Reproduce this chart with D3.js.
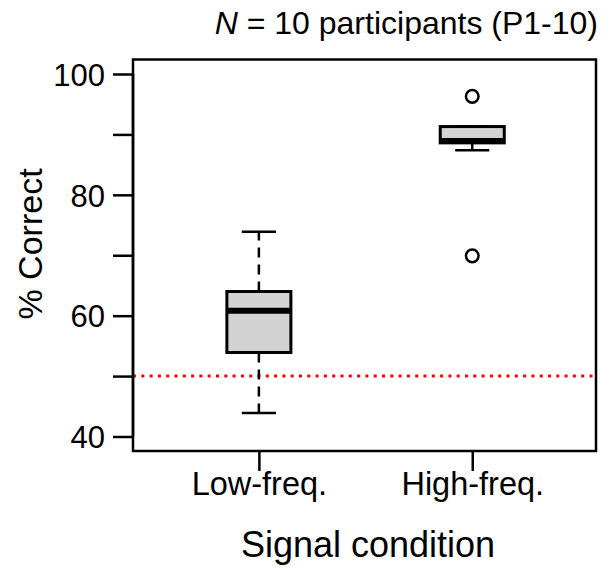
<!DOCTYPE html>
<html>
<head>
<meta charset="utf-8">
<script src="https://cdn.jsdelivr.net/npm/d3@7"></script>
<style>
  html, body { margin: 0; padding: 0; background: #fff; }
  svg text { font-family: "Liberation Sans", Arial, Helvetica, sans-serif; fill: #000; }
</style>
</head>
<body>
<svg id="chart" width="605" height="568"></svg>
<script>
// Signal conditions (one box per condition)
const categories = ["Low-freq.", "High-freq."];
// Five-number summaries per condition (% correct)
const whiskerLow  = [43.9, 87.4];
const quartile1   = [53.9, 88.6];
const medians     = [60.8, 88.9];
const quartile3   = [64.0, 91.3];
const whiskerHigh = [73.9, 91.3];
// Points beyond the whiskers
const outliers    = [[], [96.3, 69.9]];
// Chance level
const chance = 50;
// Y-axis ticks and which of them carry labels
const yTicks = [40, 50, 60, 70, 80, 90, 100];
const yLabelled = [40, 60, 80, 100];

const svg = d3.select("#chart");
const plot = { left: 133, right: 596, top: 59.5, bottom: 451 };

const x = d3.scaleLinear().domain([0.41, 2.58]).range([plot.left, plot.right]);
const y = d3.scaleLinear().domain([37.6, 102.4]).range([plot.bottom, plot.top]);

const boxHalf = 0.15;     // half box width, in x units
const stapleHalf = 0.08;  // half whisker-cap width
const FONT = '"Liberation Sans", Arial, Helvetica, sans-serif';

// Chance-level reference line
svg.append("line")
  .attr("x1", plot.left).attr("x2", plot.right)
  .attr("y1", y(chance)).attr("y2", y(chance))
  .attr("stroke", "#ff0000").attr("stroke-width", 3)
  .attr("stroke-dasharray", "3,5.3");

// Boxes
categories.forEach((c, i) => {
  const cx = x(i + 1);
  const g = svg.append("g");
  // dashed whiskers
  g.append("line").attr("x1", cx).attr("x2", cx)
    .attr("y1", y(quartile3[i])).attr("y2", y(whiskerHigh[i]))
    .attr("stroke", "#000").attr("stroke-width", 2.5).attr("stroke-dasharray", "10,7");
  g.append("line").attr("x1", cx).attr("x2", cx)
    .attr("y1", y(quartile1[i])).attr("y2", y(whiskerLow[i]))
    .attr("stroke", "#000").attr("stroke-width", 2.5).attr("stroke-dasharray", "10,7");
  // whisker caps
  [whiskerLow[i], whiskerHigh[i]].forEach(v => {
    g.append("line")
      .attr("x1", x(i + 1 - stapleHalf)).attr("x2", x(i + 1 + stapleHalf))
      .attr("y1", y(v)).attr("y2", y(v))
      .attr("stroke", "#000").attr("stroke-width", 2.5);
  });
  // box
  g.append("rect")
    .attr("x", x(i + 1 - boxHalf))
    .attr("width", x(i + 1 + boxHalf) - x(i + 1 - boxHalf))
    .attr("y", y(quartile3[i]))
    .attr("height", y(quartile1[i]) - y(quartile3[i]))
    .attr("fill", "#d3d3d3").attr("stroke", "#000").attr("stroke-width", 3);
  // median
  g.append("line")
    .attr("x1", x(i + 1 - boxHalf)).attr("x2", x(i + 1 + boxHalf))
    .attr("y1", y(medians[i])).attr("y2", y(medians[i]))
    .attr("stroke", "#000").attr("stroke-width", 6);
  // outliers
  g.selectAll("circle").data(outliers[i]).enter().append("circle")
    .attr("cx", cx).attr("cy", d => y(d)).attr("r", 6.3)
    .attr("fill", "none").attr("stroke", "#000").attr("stroke-width", 2.5);
});

// Plot frame
svg.append("rect")
  .attr("x", plot.left).attr("y", plot.top)
  .attr("width", plot.right - plot.left).attr("height", plot.bottom - plot.top)
  .attr("fill", "none").attr("stroke", "#000").attr("stroke-width", 2.5);

// Y axis
const yAxis = svg.append("g").attr("transform", `translate(${plot.left},0)`)
  .call(d3.axisLeft(y).tickValues(yTicks).tickSize(20).tickPadding(8)
    .tickFormat(d => yLabelled.includes(d) ? d : ""));
yAxis.select(".domain").attr("d", `M0,${y(40)}V${y(100)}`).attr("stroke-width", 2.5);
yAxis.selectAll(".tick line").attr("stroke-width", 2.5);
yAxis.selectAll(".tick text").attr("font-size", 31).attr("dy", "0.36em")
  .style("font-family", FONT);

// X axis
const xAxis = svg.append("g").attr("transform", `translate(0,${plot.bottom})`)
  .call(d3.axisBottom(x).tickValues([1, 2]).tickSize(20)
    .tickFormat((d, i) => categories[i]));
xAxis.select(".domain").remove();
xAxis.selectAll(".tick line").attr("stroke-width", 2.5);
xAxis.selectAll(".tick text").attr("font-size", 32.5)
  .attr("y", 44).attr("dy", 0)
  .style("font-family", FONT);

// Axis titles
svg.append("text")
  .attr("x", 368).attr("y", 557)
  .attr("text-anchor", "middle").attr("font-size", 36)
  .text("Signal condition");
svg.append("text")
  .attr("transform", `translate(42,244) rotate(-90)`)
  .attr("text-anchor", "middle").attr("font-size", 34)
  .text("% Correct");

// Title
const title = svg.append("text")
  .attr("x", 598).attr("y", 34)
  .attr("text-anchor", "end").attr("font-size", 32);
title.append("tspan").attr("font-style", "italic").text("N");
title.append("tspan").text(" = 10 participants (P1-10)");
</script>
</body>
</html>
